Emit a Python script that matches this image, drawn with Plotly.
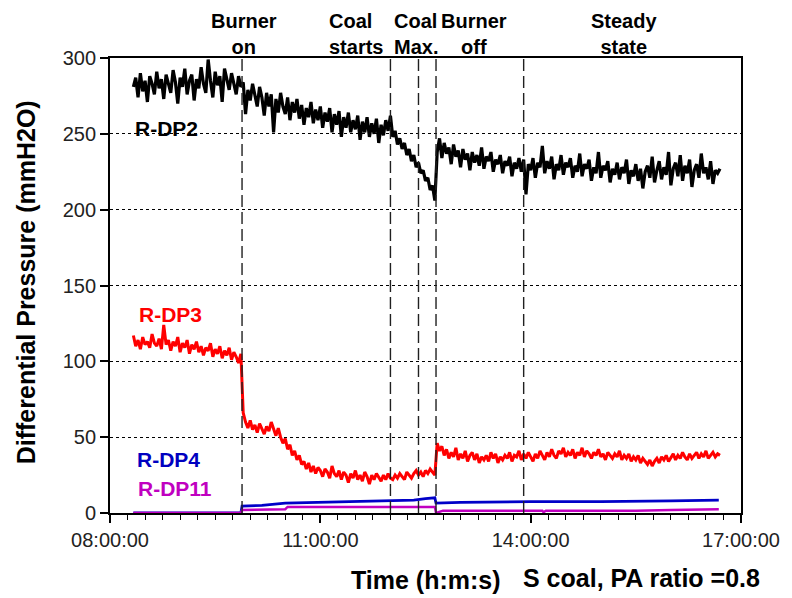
import pandas as pd
import plotly.graph_objects as go

# ---------------- data ----------------
DAY = "2000-01-01 "
start_main = DAY + "08:20:00"
step_min = 2  # sampling grid of the two noisy series

dp2 = [
    # 08:20 - 09:52
    281, 287, 274, 290, 278, 285, 271, 288, 283, 276,
    291, 280, 286, 273, 289, 282, 277, 292, 284, 270,
    287, 281, 293, 276, 285, 289, 272, 286, 280, 294,
    283, 277, 299, 285, 274, 291, 282, 288, 271, 293,
    286, 279, 290, 283, 276, 288, 281,
    # 09:54 - 12:00
    284, 263, 279, 272, 283, 276, 268, 281, 274, 262,
    277, 268, 276, 251, 273, 264, 277, 268, 263, 274,
    259, 271, 264, 273, 260, 269, 256, 267, 261, 271,
    257, 266, 259, 268, 254, 264, 258, 267, 251, 263,
    256, 265, 248, 261, 254, 264, 251, 259, 253, 262,
    246, 258, 251, 261, 248, 257, 250, 260, 244, 256,
    249, 259, 252, 262,
    # 12:02 - 12:38
    248, 252, 243, 247, 240, 244, 236, 240, 232, 236,
    228, 231, 224, 226, 219, 221, 213, 216, 206,
    # 12:40 - 16:42
    238, 247, 234, 244, 237, 241, 230, 243, 235, 239,
    228, 240, 233, 237, 226, 238, 231, 236, 229, 241,
    227, 235, 232, 238, 225, 233, 230, 236, 224, 232,
    229, 235, 222, 231, 227, 234, 225, 233, 210, 230,
    226, 234, 221, 231, 228, 242, 224, 232, 227, 235,
    220, 230, 226, 236, 223, 231, 228, 234, 221, 229,
    225, 237, 222, 230, 227, 233, 219, 228, 224, 238,
    221, 229, 226, 232, 218, 227, 223, 231, 220, 228,
    224, 233, 217, 226, 222, 230, 219, 227, 214, 225,
    229, 221, 235, 218, 226, 232, 220, 228, 223, 238,
    216, 227, 231, 222, 236, 219, 229, 224, 233, 215,
    226, 230, 221, 237, 224, 228, 220, 232, 217, 226,
    224, 227,
]

dp3 = [
    # 08:20 - 09:52
    117, 110, 114, 108, 116, 111, 113, 109, 118, 112,
    110, 115, 108, 124, 111, 114, 107, 113, 110, 116,
    106, 112, 109, 114, 105, 111, 108, 113, 106, 110,
    104, 109, 107, 112, 103, 108, 105, 110, 102, 107,
    104, 109, 101, 106, 103, 99, 105,
    # 09:54 - 12:00
    66, 60, 56, 61, 55, 58, 53, 59, 56, 52,
    57, 54, 60, 55, 51, 56, 50, 46, 49, 42,
    45, 38, 41, 35, 38, 32, 34, 29, 33, 27,
    31, 26, 30, 28, 24, 29, 27, 23, 31, 26,
    24, 28, 22, 27, 25, 20, 26, 23, 28, 22,
    25, 21, 27, 24, 19, 25, 22, 26, 23, 21,
    25, 22, 26, 23,
    # 12:02 - 12:38
    22, 25, 23, 26, 24, 22, 27, 25, 23, 26,
    28, 25, 27, 24, 28, 26, 29, 27, 25,
    # 12:40 - 16:42
    46, 41, 44, 38, 42, 36, 40, 37, 43, 35,
    39, 36, 41, 34, 38, 40, 35, 39, 33, 37,
    35, 38, 34, 40, 36, 39, 33, 37, 35, 38,
    36, 40, 34, 38, 37, 41, 35, 39, 36, 40,
    37, 34, 39, 36, 41, 38, 35, 40, 37, 42,
    38, 36, 41, 39, 43, 37, 40, 38, 42, 36,
    40, 38, 43, 37, 41, 39, 36, 40, 38, 42,
    37, 39, 35, 40, 38, 36, 39, 37, 41, 35,
    38, 36, 39, 34, 37, 35, 38, 33, 36, 34,
    32, 35, 31, 34, 36, 33, 37, 35, 38, 34,
    37, 39, 35, 38, 36, 40, 37, 35, 39, 36,
    38, 40, 36, 39, 37, 41, 36, 38, 40, 37,
    39, 38,
]

dp4_times = ["08:20", "09:52", "09:53", "10:10", "10:30", "11:00", "11:30", "12:00",
             "12:20", "12:30", "12:38", "12:39", "13:00", "14:00", "15:00", "16:00", "16:41"]
dp4_vals = [0, 0, 4.5, 5, 6.5, 7, 7.5, 8, 8.5, 9.5, 10, 6.5, 7, 7.5, 7.5, 8, 8.5]

dp11_times = ["08:20", "09:52", "09:53", "10:30", "10:32", "12:38", "12:39", "12:45",
              "14:10", "14:11", "14:13", "15:30", "16:00", "16:41"]
dp11_vals = [0, 0, 2, 2.5, 4, 4, 0, 1.5, 1.5, 0.5, 1.5, 1.5, 2, 2.5]

event_times = ["09:53", "12:00", "12:24", "12:39", "13:54"]
event_labels = ["Burner<br>on", "Coal<br>starts", "Coal<br>Max.", "Burner<br>off", "Steady<br>state"]

x_tick_vals = ["08:00", "11:00", "14:00", "17:00"]
x_tick_text = ["08:00:00", "11:00:00", "14:00:00", "17:00:00"]
y_tick_vals = [0, 50, 100, 150, 200, 250, 300]

# ---------------- build ----------------
t_main = pd.date_range(start=start_main, periods=len(dp2), freq=f"{step_min}min")
to_dt = lambda lst: [pd.Timestamp(DAY + s) for s in lst]

FONT = "Liberation Sans, Arial, sans-serif"

fig = go.Figure()
fig.add_trace(go.Scatter(x=t_main, y=dp2, mode="lines", line=dict(color="black", width=3.2), showlegend=False))
fig.add_trace(go.Scatter(x=t_main, y=dp3, mode="lines", line=dict(color="#ff0000", width=3.0), showlegend=False))
fig.add_trace(go.Scatter(x=to_dt(dp4_times), y=dp4_vals, mode="lines", line=dict(color="#0000c8", width=2.8), showlegend=False))
fig.add_trace(go.Scatter(x=to_dt(dp11_times), y=dp11_vals, mode="lines", line=dict(color="#c000c0", width=2.4), showlegend=False))

for et in to_dt(event_times):
    fig.add_shape(type="line", xref="x", yref="paper", x0=et, x1=et, y0=0, y1=1,
                  line=dict(color="#202020", width=1.4, dash="12px,5px"), layer="above")

# event labels (paper positions)
ann_pos = [(0.2117, "center"), (0.3444, "left"), (0.4471, "left"), (0.5766, "center"), (0.8152, "center")]
for (px, anc), txt in zip(ann_pos, event_labels):
    fig.add_annotation(xref="paper", yref="paper", x=px, y=1.053, text=txt, showarrow=False,
                       xanchor=anc, yanchor="middle", align=anc,
                       font=dict(family=FONT, size=20, color="black", weight="bold"))

series_labels = [("R-DP2", "black", 0.036, 0.846), ("R-DP3", "#ff0000", 0.042, 0.437),
                 ("R-DP4", "#0000c0", 0.039, 0.1165), ("R-DP11", "#c000c0", 0.041, 0.053)]
for txt, col, px, py in series_labels:
    fig.add_annotation(xref="paper", yref="paper", x=px, y=py, text=txt, showarrow=False,
                       xanchor="left", yanchor="middle",
                       font=dict(family=FONT, size=21, color=col, weight="bold"))

fig.add_annotation(xref="paper", yref="paper", x=0.5, y=-0.147, text="Time (h:m:s)", showarrow=False,
                   xanchor="center", yanchor="middle", font=dict(family=FONT, size=25, color="black", weight="bold"))
fig.add_annotation(xref="paper", yref="paper", x=0.652, y=-0.143, text="S coal, PA ratio =0.8", showarrow=False,
                   xanchor="left", yanchor="middle", font=dict(family=FONT, size=25, color="black", weight="bold"))
fig.add_annotation(xref="paper", yref="paper", x=-0.134, y=0.508, text="Differential Pressure (mmH2O)",
                   showarrow=False, textangle=-90, xanchor="center", yanchor="middle",
                   font=dict(family=FONT, size=25, color="black", weight="bold"))

fig.update_layout(
    width=792, height=598,
    margin=dict(l=110, r=49, t=58, b=85),
    paper_bgcolor="white", plot_bgcolor="white",
    font=dict(family=FONT, color="#222"),
    showlegend=False,
)
fig.update_xaxes(
    type="date",
    range=[pd.Timestamp(DAY + "08:00"), pd.Timestamp(DAY + "17:00")],
    tickvals=to_dt(x_tick_vals), ticktext=x_tick_text,
    tickfont=dict(size=20, family=FONT, color="#222"),
    ticks="outside", ticklen=8, tickwidth=1.5, tickcolor="black",
    showline=True, linecolor="black", linewidth=1.6, mirror=True,
    showgrid=False, zeroline=False,
    minor=dict(dtick=15 * 60 * 1000, tick0=pd.Timestamp(DAY + "08:00"), ticks="outside",
               ticklen=5, tickwidth=1.2, tickcolor="black", showgrid=False),
)
fig.update_yaxes(
    range=[0, 300], tickvals=y_tick_vals,
    tickfont=dict(size=20, family=FONT, color="#222"),
    ticks="outside", ticklen=8, tickwidth=1.5, tickcolor="black",
    showline=True, linecolor="black", linewidth=1.8, mirror=True,
    showgrid=True, gridcolor="black", gridwidth=1, griddash="dot",
    zeroline=False,
)

fig.write_html("out.html")
